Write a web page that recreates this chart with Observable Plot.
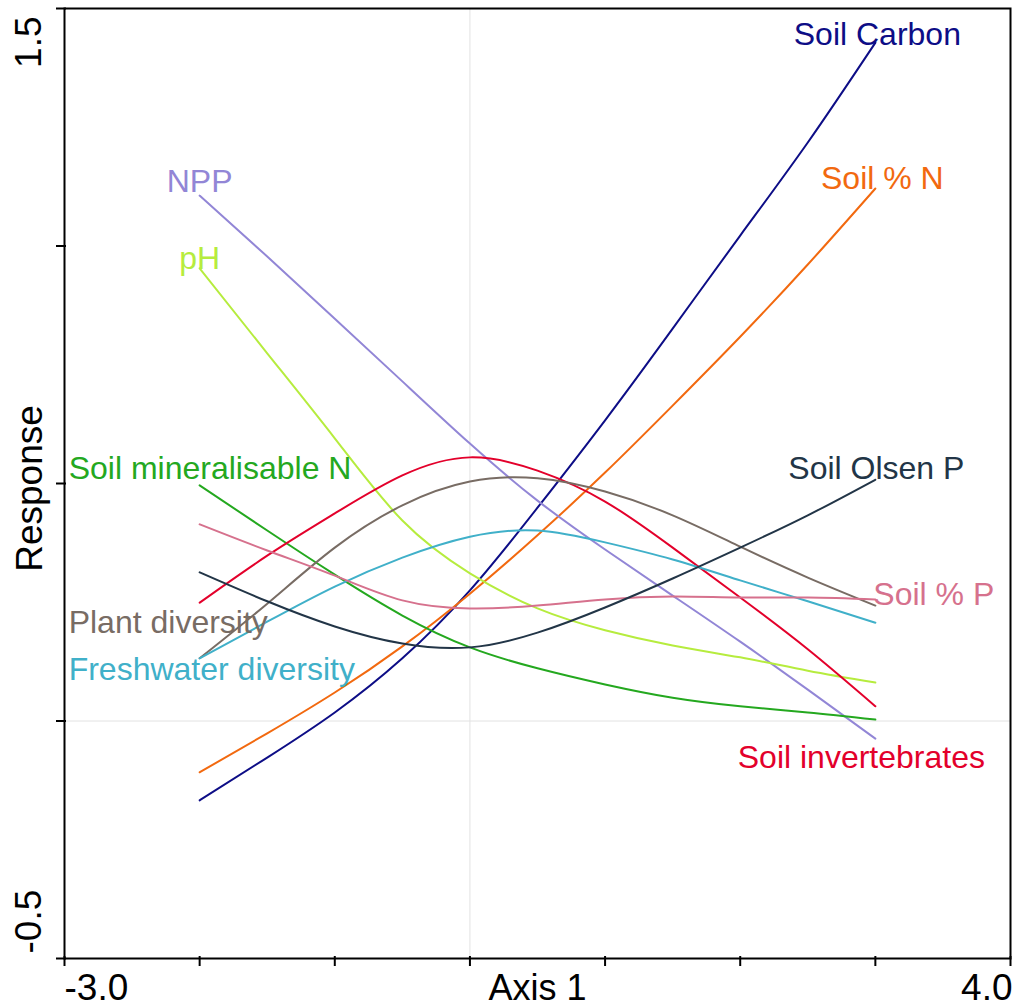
<!DOCTYPE html>
<html>
<head>
<meta charset="utf-8">
<script src="https://cdn.jsdelivr.net/npm/d3@7"></script>
<script src="https://cdn.jsdelivr.net/npm/@observablehq/plot@0.6"></script>
<style>
  html, body { margin: 0; padding: 0; background: #ffffff; }
  #chart svg { display: block; }
</style>
</head>
<body>
<div id="chart"></div>
<script>
// ---- Data ----
const axisPositions = [-2, -1.5, -1, -0.5, 0, 0.5, 1, 1.5, 2, 2.5, 3];

const soilCarbon          = [-0.167, -0.077, 0.018, 0.132, 0.275, 0.449, 0.633, 0.826, 1.022, 1.218, 1.428];
const soilPctN            = [-0.108, -0.026, 0.060, 0.157, 0.268, 0.391, 0.523, 0.664, 0.809, 0.961, 1.121];
const npp                 = [1.106, 0.978, 0.847, 0.715, 0.584, 0.464, 0.361, 0.264, 0.167, 0.066, -0.037];
const pH                  = [0.953, 0.774, 0.595, 0.422, 0.311, 0.237, 0.191, 0.159, 0.134, 0.106, 0.081];
const soilMineralisableN  = [0.496, 0.401, 0.308, 0.222, 0.155, 0.111, 0.077, 0.049, 0.031, 0.018, 0.003];
const soilInvertebrates   = [0.249, 0.348, 0.437, 0.517, 0.555, 0.527, 0.462, 0.365, 0.260, 0.151, 0.031];
const plantDiversity      = [0.132, 0.247, 0.365, 0.454, 0.504, 0.511, 0.483, 0.433, 0.367, 0.302, 0.243];
const freshwaterDiversity = [0.132, 0.209, 0.283, 0.344, 0.388, 0.401, 0.376, 0.340, 0.296, 0.252, 0.207];
const soilPctP            = [0.414, 0.359, 0.306, 0.254, 0.237, 0.243, 0.256, 0.262, 0.260, 0.260, 0.256];
const soilOlsenP          = [0.313, 0.252, 0.199, 0.163, 0.155, 0.186, 0.239, 0.300, 0.365, 0.433, 0.508];

const seriesNames = [
  "Soil Carbon", "Soil % N", "NPP", "pH", "Soil mineralisable N",
  "Soil invertebrates", "Plant diversity", "Freshwater diversity", "Soil % P", "Soil Olsen P"
];
const seriesValues = [
  soilCarbon, soilPctN, npp, pH, soilMineralisableN,
  soilInvertebrates, plantDiversity, freshwaterDiversity, soilPctP, soilOlsenP
];
const seriesColors = [
  "#0d0d86", "#f2690f", "#9286d6", "#b6ec3e", "#24a81f",
  "#e3002b", "#786c64", "#40b0c9", "#d6718d", "#223547"
];

const xTicks = [-3, -2, -1, 0, 1, 2, 3, 4];
const xTickLabels = [-3, 4];
const yTicks = [-0.5, 0, 0.5, 1, 1.5];
const yTickLabels = [-0.5, 1.5];
const xTitle = "Axis 1";
const yTitle = "Response";

// ---- Build table ----
const rows = [];
seriesNames.forEach((name, i) => {
  seriesValues[i].forEach((v, j) => rows.push({series: name, x: axisPositions[j], y: v}));
});

// label placement (styling, relative to series start/end points)
const labelPlacement = {
  "Soil Carbon":          {end: true,  anchor: "middle", dx: 2,    dy: -8},
  "Soil % N":             {end: true,  anchor: "middle", dx: 7,    dy: -10},
  "NPP":                  {end: false, anchor: "middle", dx: 0,    dy: -14},
  "pH":                   {end: false, anchor: "middle", dx: 0,    dy: -10},
  "Soil mineralisable N": {end: false, anchor: "start",  dx: -131, dy: -17},
  "Soil Olsen P":         {end: true,  anchor: "middle", dx: 1,    dy: -11},
  "Plant diversity":      {end: false, anchor: "start",  dx: -131, dy: -36},
  "Freshwater diversity": {end: false, anchor: "start",  dx: -131, dy: 11},
  "Soil % P":             {end: true,  anchor: "start",  dx: -2,   dy: -5},
  "Soil invertebrates":   {end: true,  anchor: "middle", dx: -14,  dy: 51}
};

const labelMarks = seriesNames.map((name, i) => {
  const p = labelPlacement[name];
  const vals = seriesValues[i];
  const k = p.end ? vals.length - 1 : 0;
  const datum = [{series: name, x: axisPositions[k], y: vals[k]}];
  return Plot.text(datum, {
    x: "x", y: "y", text: "series", fill: "series",
    textAnchor: p.anchor, lineAnchor: "middle", dx: p.dx, dy: p.dy, fontSize: 32
  });
});

const fontFamily = "'Liberation Sans', Arial, Helvetica, sans-serif";

const chart = Plot.plot({
  width: 1020,
  height: 1008,
  marginLeft: 64,
  marginRight: 10,
  marginTop: 8,
  marginBottom: 50,
  style: {fontFamily, background: "#ffffff", color: "#000000"},
  x: {domain: [-3, 4], axis: null},
  y: {domain: [-0.5, 1.5], axis: null},
  color: {domain: seriesNames, range: seriesColors},
  marks: [
    Plot.ruleX([0], {stroke: "#e2e2e2", strokeWidth: 1}),
    Plot.ruleY([0], {stroke: "#e2e2e2", strokeWidth: 1}),
    Plot.line(rows, {x: "x", y: "y", z: "series", stroke: "series", curve: "natural", strokeWidth: 2}),
    ...labelMarks,
    Plot.frame({stroke: "#000000", strokeWidth: 2}),
    Plot.axisX(xTicks, {tickSize: 10, dy: -2, tickFormat: () => "", label: null, stroke: "#000", strokeWidth: 2}),
    Plot.axisY(yTicks, {tickSize: 10, dx: 2, tickFormat: () => "", label: null, stroke: "#000", strokeWidth: 2}),
    Plot.text([xTickLabels[0]], {x: d => d, frameAnchor: "bottom", lineAnchor: "middle", text: d => d.toFixed(1), textAnchor: "start", dy: 30, fontSize: 37, fill: "#000"}),
    Plot.text([xTickLabels[1]], {x: d => d, frameAnchor: "bottom", lineAnchor: "middle", text: d => d.toFixed(1), textAnchor: "end", dy: 30, dx: 2, fontSize: 37, fill: "#000"}),
    Plot.text([yTickLabels[0]], {y: d => d, frameAnchor: "left", lineAnchor: "middle", text: d => d.toFixed(1), textAnchor: "start", rotate: -90, dx: -35, dy: -5, fontSize: 37, fill: "#000"}),
    Plot.text([yTickLabels[1]], {y: d => d, frameAnchor: "left", lineAnchor: "middle", text: d => d.toFixed(1), textAnchor: "end", rotate: -90, dx: -35, dy: 8, fontSize: 37, fill: "#000"}),
    Plot.text([xTitle], {frameAnchor: "bottom", lineAnchor: "middle", textAnchor: "middle", text: d => d, dy: 30, fontSize: 36, fill: "#000"}),
    Plot.text([yTitle], {frameAnchor: "left", lineAnchor: "middle", textAnchor: "middle", text: d => d, rotate: -90, dx: -34, dy: 5, fontSize: 37, fill: "#000"})
  ]
});

document.getElementById("chart").appendChild(chart);
</script>
</body>
</html>
